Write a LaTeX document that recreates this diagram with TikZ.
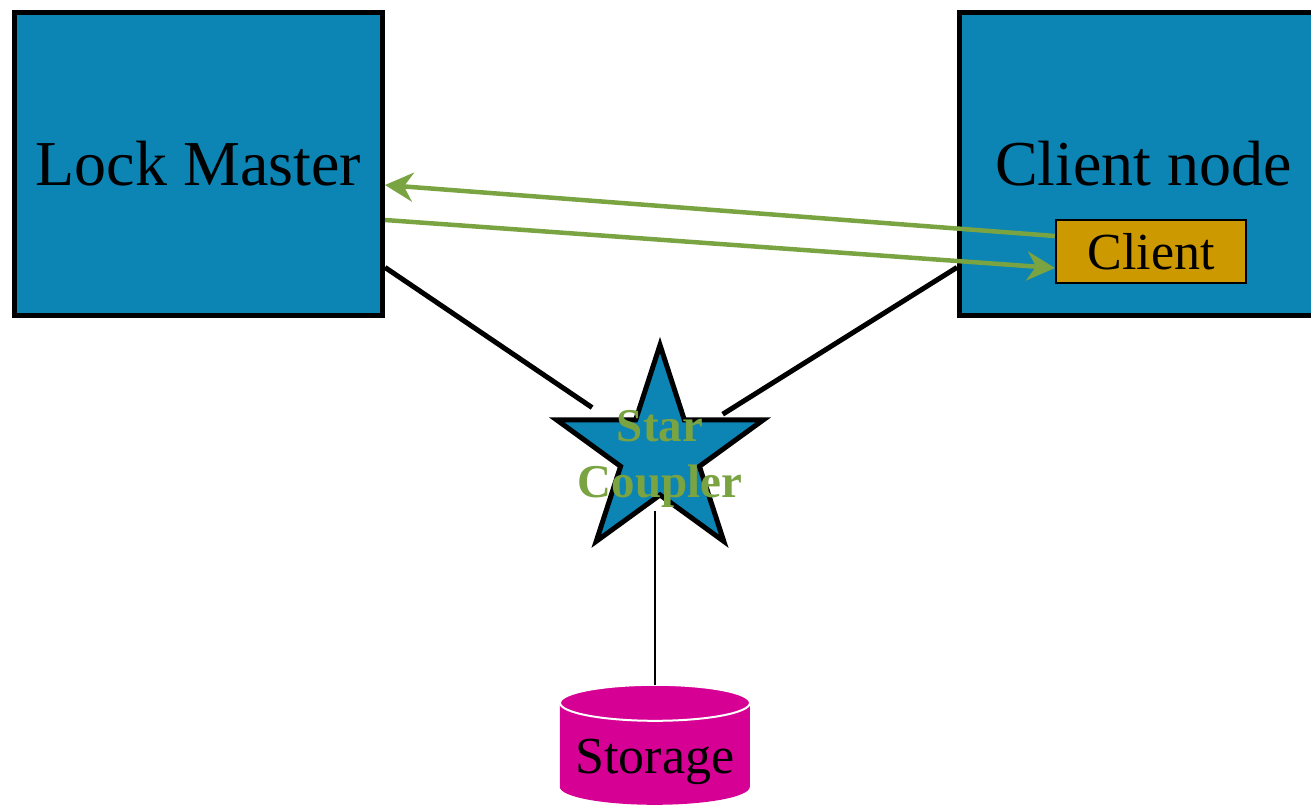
\documentclass[tikz,border=0pt]{standalone}
\usepackage{fontspec}
\setmainfont{Liberation Serif}
\usetikzlibrary{shapes.geometric,arrows.meta,calc}
\definecolor{boxblue}{RGB}{12,132,180}
\definecolor{clgold}{RGB}{204,153,0}
\definecolor{stmag}{RGB}{214,0,148}
\definecolor{arrgreen}{RGB}{122,163,66}
\tikzset{
  bigbox/.style={draw=black, line width=5pt, fill=boxblue, minimum width=368pt, minimum height=303pt, inner sep=0pt, font=\fontsize{64}{70}\selectfont},
  clbox/.style={draw=black, line width=2pt, fill=clgold, minimum width=190pt, minimum height=63pt, inner sep=0pt, font=\fontsize{52}{58}\selectfont},
  msg/.style={draw=arrgreen, line width=4.5pt, -{Stealth[length=28pt, width=29pt, inset=9pt]}},
  link/.style={draw=black, line width=5pt},
}
\begin{document}
\begin{tikzpicture}[x=1pt,y=-1pt]
\useasboundingbox (0,0) rectangle (1311,804);
\node[bigbox] (lm) at (198.5,164) {\raisebox{-3pt}{Lock Master}};
\node[bigbox] (cn) at (1143.5,164) {\raisebox{-3pt}{Client node}};
\node[clbox] (cl) at (1151,251.5) {\raisebox{-2pt}{Client}};
% star coupler
\node[star, star points=5, star point ratio=2.618, minimum size=217pt, inner sep=0pt, draw=black, line width=5pt, fill=boxblue] (sc) at (660,453.5) {};
\node[font=\fontsize{47}{56}\selectfont\bfseries, text=arrgreen, align=center, inner sep=0pt] (sclab) at (660,459) {Star\\Coupler};
% storage cylinder
\node[minimum width=190pt, minimum height=120pt, inner sep=0pt] (st) at (655,745) {};
\fill[stmag] (st.north west) ++(0,18) -- ++(0,84) arc[start angle=180, end angle=0, x radius=95, y radius=18] -- ++(0,-84) arc[start angle=0, end angle=-180, x radius=95, y radius=18] -- cycle;
\draw[white, line width=2pt] (st.north) ++(0,18) ellipse[x radius=95, y radius=18];
\node[font=\fontsize{52}{58}\selectfont, inner sep=0pt] (stlab) at (655,762) {Storage};
% links
\draw[link, shorten >=82pt] (lm.-29.6) -- (sc.center);
\draw[link, shorten >=74pt] (cn.209.2) -- (sc.center);
\draw[line width=2.5pt, shorten <=57pt] (sc.center -| st.north) -- (st.north);
% messages
\coordinate (lmA) at ($(lm.east)+(0,21)$);
\coordinate (lmB) at ($(lm.east)+(0,56)$);
\coordinate (clA) at ($(cl.west)+(0,-15.5)$);
\coordinate (clB) at ($(cl.west)+(0,16.5)$);
\draw[msg] (clA) -- (lmA);
\draw[msg] (lmB) -- (clB);
\end{tikzpicture}
\end{document}
